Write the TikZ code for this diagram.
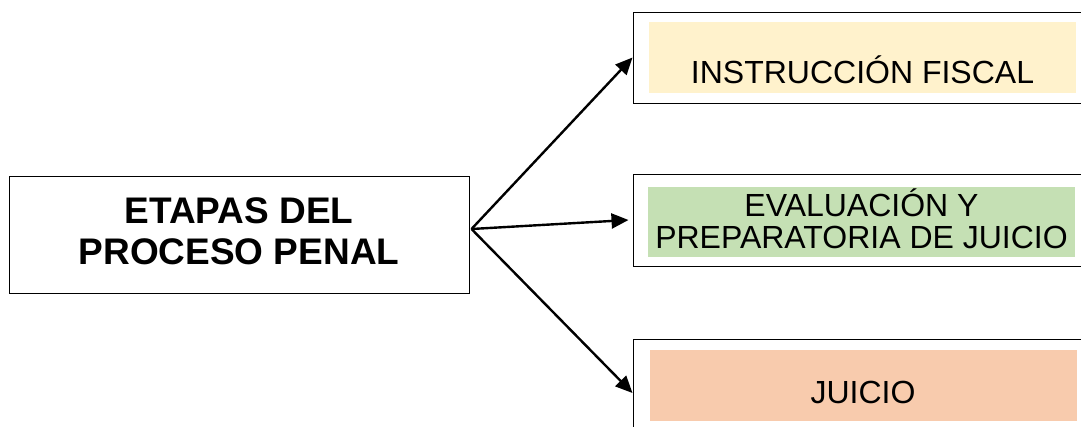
\documentclass[tikz,border=0pt]{standalone}
\usepackage{fontspec}
\setmainfont{Liberation Sans}
\usepackage{tikz}
\usetikzlibrary{arrows.meta}
\definecolor{fiscalfill}{HTML}{FFF2CC}
\definecolor{evalfill}{HTML}{C5E0B4}
\definecolor{juiciofill}{HTML}{F8CBAD}
\tikzset{
  outerbox/.style={draw=black, line width=1pt, fill=white, inner sep=0pt},
  stagefill/.style={inner sep=0pt, minimum width=427pt, align=center, font=\fontsize{32}{32}\selectfont},
  flow/.style={line width=2.4pt, arrows={-Triangle[length=17pt, width=15pt]}}
}
\begin{document}
\begin{tikzpicture}[x=1pt, y=-1pt]
\useasboundingbox (0, 0) rectangle (1081, 426);
\node[outerbox, minimum width=460pt, minimum height=117pt, align=center, text depth=7pt, font=\bfseries\fontsize{37}{41}\selectfont] (etapas) at (239, 234.5) {ETAPAS DEL\\PROCESO PENAL};
\node[outerbox, minimum width=459pt, minimum height=91pt] (instruccion) at (862.5, 57.5) {};
\node[outerbox, minimum width=459pt, minimum height=92pt] (evaluacion) at (862.5, 220) {};
\node[outerbox, minimum width=459pt, minimum height=108pt] (juicio) at (862.5, 393) {};
\node[stagefill, fill=fiscalfill, text height=61pt, text depth=10pt] (instruccion_fill) at (862.5, 57.5) {INSTRUCCIÓN FISCAL};
\node[stagefill, fill=evalfill, minimum height=70pt, text depth=6pt] (evaluacion_fill) at (861.5, 222) {EVALUACIÓN Y\\PREPARATORIA DE JUICIO};
\node[stagefill, fill=juiciofill, text height=53pt, text depth=18pt] (juicio_fill) at (863, 385.5) {JUICIO};
\coordinate (fork) at ([xshift=2pt, yshift=5.5pt]etapas.east);
\draw[flow] (fork) -- (instruccion.west);
\draw[flow] (fork) -- ([xshift=-4pt]evaluacion.west);
\draw[flow] (fork) -- (juicio.west);
\end{tikzpicture}
\end{document}
